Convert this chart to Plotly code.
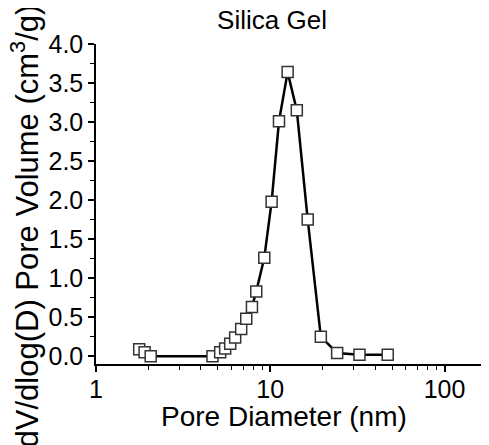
import plotly.graph_objects as go

# pore size distribution
pore_diameter_nm = [1.77, 1.90, 2.06, 4.66, 5.16, 5.51, 5.89, 6.29, 6.81, 7.28, 7.85, 8.31,
                    9.24, 10.18, 11.22, 12.58, 14.2, 16.4, 19.5, 24.2, 32.5, 47.2]
pore_volume = [0.09, 0.05, 0.0, 0.0, 0.05, 0.10, 0.16, 0.24, 0.35, 0.48, 0.63, 0.83,
               1.26, 1.98, 3.01, 3.64, 3.15, 1.75, 0.25, 0.04, 0.02, 0.02]

x_major = [1, 10, 100]
x_major_text = ["1", "10", "100"]
x_minor = [2, 3, 4, 5, 6, 7, 8, 9, 20, 30, 40, 50, 60, 70, 80, 90, 200]
y_major = [0.0, 0.5, 1.0, 1.5, 2.0, 2.5, 3.0, 3.5, 4.0]

FONT = "Liberation Sans, Arial, sans-serif"

fig = go.Figure(go.Scatter(
    x=pore_diameter_nm,
    y=pore_volume,
    mode="lines+markers",
    line=dict(color="black", width=2.5),
    marker=dict(symbol="square", size=11, color="white",
                line=dict(color="#333333", width=1.5)),
    showlegend=False,
))

# the page body adds an 8px offset, so the margins are trimmed by that much
fig.update_layout(
    width=489, height=445,
    margin=dict(l=88, r=0, t=36, b=89),
    paper_bgcolor="white",
    plot_bgcolor="white",
    font=dict(family=FONT, color="black"),
    title=dict(text="Silica Gel", font=dict(size=26, color="black"),
               x=0.439, xref="paper", xanchor="center",
               y=1 - 12 / 445, yref="container", yanchor="middle"),
)

fig.update_xaxes(
    type="log", range=[0, 2.301], automargin=False,
    tickvals=x_major, ticktext=x_major_text,
    ticks="outside", ticklen=6, tickwidth=1.5, tickcolor="black",
    minor=dict(tickvals=x_minor, ticks="outside", ticklen=4, tickwidth=1.2, tickcolor="black"),
    showline=True, linecolor="black", linewidth=1.5,
    showgrid=False, zeroline=False,
    tickfont=dict(size=25), ticklabelstandoff=-4,
)
fig.update_yaxes(
    range=[-0.1, 4.0], automargin=False,
    tickvals=y_major, tickformat=".1f",
    ticks="outside", ticklen=6, tickwidth=1.5, tickcolor="black",
    minor=dict(dtick=0.25, ticks="outside", ticklen=4, tickwidth=1.2, tickcolor="black"),
    showline=True, linecolor="black", linewidth=1.5,
    showgrid=False, zeroline=False,
    tickfont=dict(size=25),
)

fig.add_annotation(text="Pore Diameter (nm)", xref="paper", yref="paper",
                   x=0.469, y=-0.1625, xanchor="center", yanchor="middle",
                   showarrow=False, font=dict(size=28, color="black"))
fig.add_annotation(text="dV/dlog(D) Pore Volume (cm<sup>3</sup>/g)", xref="paper", yref="paper",
                   x=-0.177, y=0.43, xanchor="center", yanchor="middle", textangle=-90,
                   showarrow=False, font=dict(size=31, color="black"))

fig.write_html("out.html")
